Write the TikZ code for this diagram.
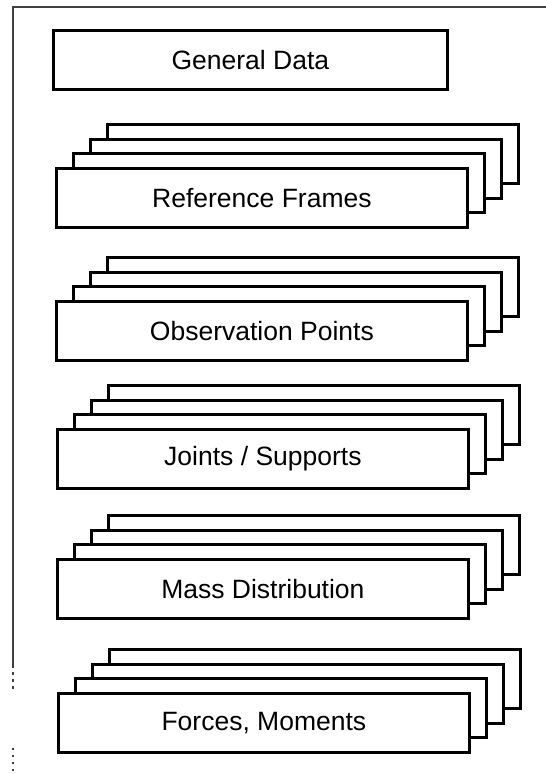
\documentclass[tikz,border=0pt]{standalone}
\usepackage{fontspec}
\setmainfont{Liberation Sans}
\newcommand\mystack[4]{%
  \foreach \k in {3,2,1} {
    \node[card] (#1-\k) at ({#2+17*\k},{#3-14.6*\k}) {};
  }
  \node[card] (#1) at (#2,#3) {#4};
}
\begin{document}
\begin{tikzpicture}[x=1pt,y=-1pt,
  card/.style={draw=black, line width=2.8pt, fill=white,
    minimum width=411pt, minimum height=59pt, inner sep=0pt,
    anchor=north west, font=\fontsize{26.5}{30}\selectfont},
  frameline/.style={line width=1.3pt, black!75}]
\useasboundingbox (0,0) rectangle (546,774);
% outer frame (top and left only)
\draw[frameline] (546,7) -- (13,7) -- (13,665);
\draw[frameline, dash pattern=on 3pt off 4pt] (13,665) -- (13,692);
\draw[frameline, dash pattern=on 2pt off 5pt] (13,748) -- (13,772);
% boxes
\node[card, minimum width=394pt] (gen) at (52,29) {General Data};
\mystack{ref}{55}{167}{Reference Frames}
\mystack{obs}{55}{300}{Observation Points}
\mystack{joi}{56}{428}{Joints / Supports}
\mystack{mas}{56}{558}{Mass Distribution}
\mystack{frc}{57}{692}{Forces, Moments}
\end{tikzpicture}
\end{document}
